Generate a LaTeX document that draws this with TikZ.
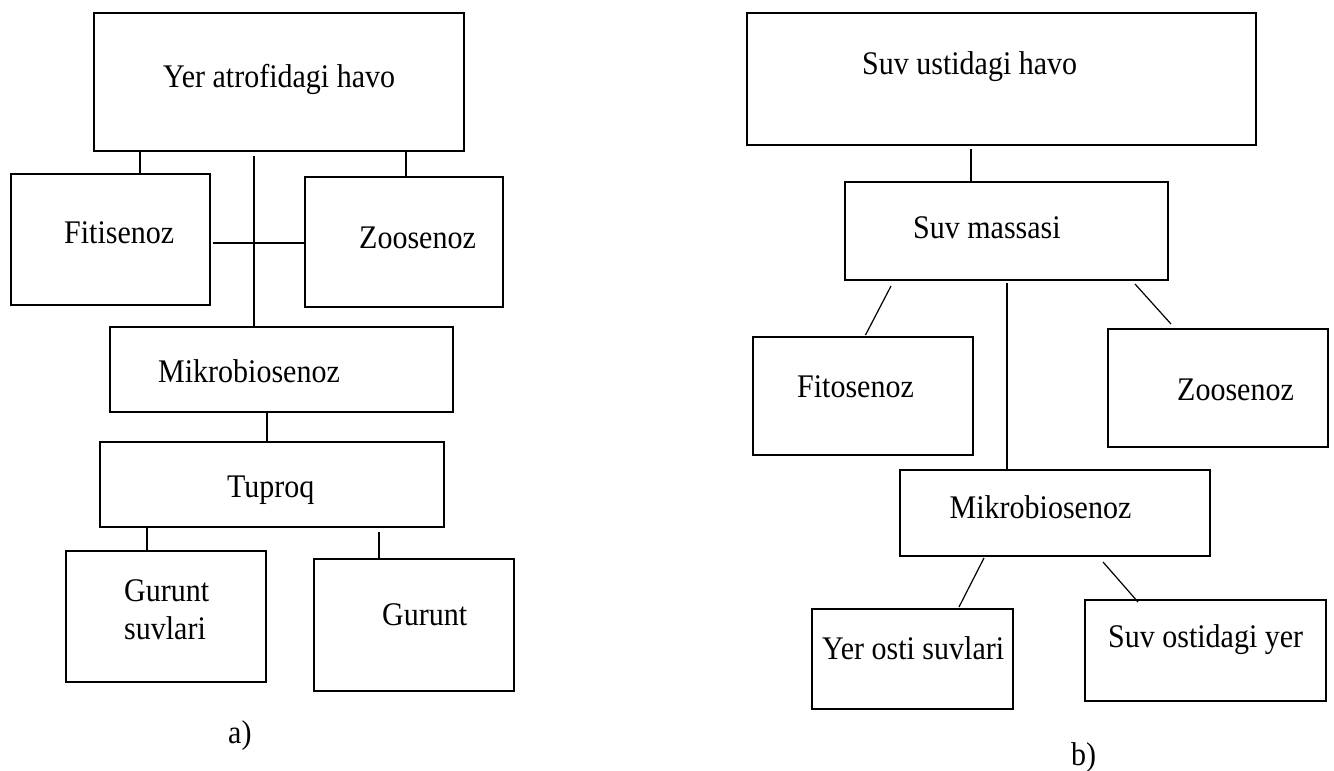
\documentclass[tikz,border=0pt]{standalone}
\usepackage{fontspec}
\usepackage{graphicx}
\setmainfont{Liberation Serif}
\newcommand{\tallt}[1]{\scalebox{1}[1.1]{#1}}
\begin{document}
\begin{tikzpicture}[x=1pt,y=-1pt,
  box/.style={draw=black,line width=1.2pt,rectangle,inner sep=0pt},
  lbl/.style={inner sep=0pt,anchor=base west,font=\fontsize{30}{38}\selectfont},
  conn/.style={line width=1.2pt}]
\useasboundingbox (0,0) rectangle (1334,771);
\fill[white] (0,0) rectangle (1334,771);
% ---------- panel a ----------
\node[box,minimum width=370pt,minimum height=138pt] (ta) at (279,82) {};
\node[box,minimum width=199pt,minimum height=131pt] (fa) at (110.5,239.5) {};
\node[box,minimum width=198pt,minimum height=130pt] (za) at (404,242) {};
\node[box,minimum width=343pt,minimum height=85pt] (ma) at (281.5,369.5) {};
\node[box,minimum width=344pt,minimum height=85pt] (tu) at (272,484.5) {};
\node[box,minimum width=200pt,minimum height=131pt] (gs) at (166,616.5) {};
\node[box,minimum width=200pt,minimum height=132pt] (gu) at (414,625) {};
\node[lbl] (tat) at (163,87) {\tallt{Yer atrofidagi havo}};
\node[lbl] (fat) at (64,243) {\tallt{Fitisenoz}};
\node[lbl] (zat) at (359,248) {\tallt{Zoosenoz}};
\node[lbl] (mat) at (158,382) {\tallt{Mikrobiosenoz}};
\node[lbl] (tut) at (227,497) {\tallt{Tuproq}};
\node[lbl,anchor=west,align=left] (gst) at (124,610) {\tallt{Gurunt}\\\tallt{suvlari}};
\node[lbl] (gut) at (382,625) {\tallt{Gurunt}};
\node[lbl] (cap a) at (228,743) {\tallt{a)}};
\coordinate (c1) at (140,0);
\coordinate (c2) at (406,0);
\coordinate (c3) at (254,156);
\coordinate (c4) at (213,243);
\coordinate (c5) at (267,0);
\coordinate (c6) at (147,526);
\coordinate (c7) at (379,532);
\draw[conn] (ta.south -| c1) -- (fa.north -| c1);
\draw[conn] (ta.south -| c2) -- (za.north -| c2);
\draw[conn] (c3) -- (ma.north -| c3);
\draw[conn] (c4) -- (za.west |- c4);
\draw[conn] (ma.south -| c5) -- (tu.north -| c5);
\draw[conn] (c6) -- (gs.north -| c6);
\draw[conn] (c7) -- (gu.north -| c7);
% ---------- panel b ----------
\node[box,minimum width=509pt,minimum height=132pt] (tb) at (1001.5,79) {};
\node[box,minimum width=323pt,minimum height=98pt] (sm) at (1006.5,231) {};
\node[box,minimum width=220pt,minimum height=118pt] (fb) at (863,396) {};
\node[box,minimum width=220pt,minimum height=118pt] (zb) at (1218,388) {};
\node[box,minimum width=310pt,minimum height=86pt] (mb) at (1055,513) {};
\node[box,minimum width=201pt,minimum height=100pt] (yo) at (912.5,659) {};
\node[box,minimum width=241pt,minimum height=101pt] (so) at (1205.5,650.5) {};
\node[lbl] (tbt) at (862,74) {\tallt{Suv ustidagi havo}};
\node[lbl] (smt) at (913,238) {\tallt{Suv massasi}};
\node[lbl] (fbt) at (797,397) {\tallt{Fitosenoz}};
\node[lbl] (zbt) at (1177,400) {\tallt{Zoosenoz}};
\node[lbl] (mbt) at (949.5,518) {\tallt{Mikrobiosenoz}};
\node[lbl] (yot) at (822,659) {\tallt{Yer osti suvlari}};
\node[lbl] (sot) at (1108,647) {\tallt{Suv ostidagi yer}};
\node[lbl] (cap b) at (1071,765) {\tallt{b)}};
\coordinate (d1) at (971,149);
\coordinate (d2a) at (891,286);
\coordinate (d2b) at (865.5,335);
\coordinate (d3) at (1007,283);
\coordinate (d4a) at (1135,284);
\coordinate (d4b) at (1171,324);
\coordinate (d5a) at (984,558);
\coordinate (d5b) at (959,607);
\coordinate (d6a) at (1103,562);
\coordinate (d6b) at (1138,602);
\draw[conn] (d1) -- (sm.north -| d1);
\draw[conn] (d2a) -- (d2b);
\draw[conn] (d3) -- (mb.north -| d3);
\draw[conn] (d4a) -- (d4b);
\draw[conn] (d5a) -- (d5b);
\draw[conn] (d6a) -- (d6b);
\end{tikzpicture}
\end{document}
